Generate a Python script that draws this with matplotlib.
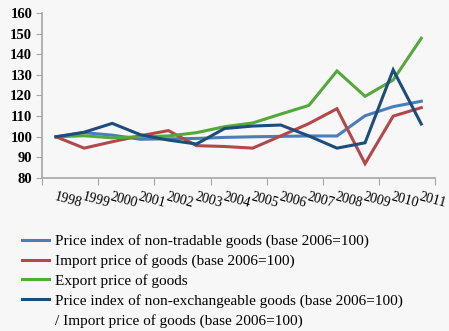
import matplotlib.pyplot as plt
import numpy as np

# data
years = ['1998', '1999', '2000', '2001', '2002', '2003', '2004',
         '2005', '2006', '2007', '2008', '2009', '2010', '2011']
non_tradable = [100, 102, 100.8, 98.8, 99, 99.2, 99.7, 100, 100.2, 100.4, 100.4, 110.2, 114.6, 117.2]
import_price = [100, 94.5, 97.6, 100.5, 103, 95.7, 95.3, 94.5, 100.4, 106.4, 113.6, 87, 110, 114.1]
export_price = [100, 100.5, 99.5, 100, 100.4, 102, 104.9, 106.7, 111, 115.2, 131.9, 119.6, 127.5, 147.7]
ratio = [100, 102.2, 106.5, 101, 98.4, 96.5, 104, 105.2, 105.7, 100.4, 94.5, 97.1, 132.4, 106.2]

labels = ['Price index of non-tradable goods (base 2006=100)',
          'Import price of goods (base 2006=100)',
          'Export price of goods',
          'Price index of non-exchangeable goods (base 2006=100)']
label_tail = '/ Import price of goods (base 2006=100)'
colors = ['#4A7EBB', '#B2484A', '#55A83C', '#1C4D7C']

plt.rcParams['font.family'] = ['Liberation Serif', 'DejaVu Serif']

bg = '#f7f7f7'
fig = plt.figure(figsize=(4.49, 3.31), dpi=100, facecolor=bg)
ax = fig.add_axes([0.0935, 0.462, 0.876, 0.499], facecolor=bg)

x = np.arange(len(years))
lines = []
for ys, c, lab in zip([non_tradable, import_price, export_price, ratio], colors, labels):
    ln, = ax.plot(x, ys, color=c, lw=2.2, label=lab, solid_joinstyle='miter')
    lines.append(ln)

ax.set_xlim(-0.5, len(years) - 0.5)
ax.set_ylim(80, 160)
ax.set_yticks(range(80, 161, 10))
for lbl in ax.get_yticklabels():
    lbl.set_fontweight('bold')
    lbl.set_fontsize(10.5)

ax.set_xticks(np.arange(-0.5, len(years), 2))
ax.set_xticklabels([])
ax.set_xticks(x, minor=True)
ax.set_xticklabels(years, minor=True, rotation=-15, ha='left', rotation_mode='anchor', fontsize=10)
ax.tick_params(axis='x', which='minor', length=0, pad=9)
ax.tick_params(axis='x', which='major', length=5, color='#a6a6a6', direction='out')
ax.tick_params(axis='y', length=4, color='#a6a6a6', pad=3)

for s in ['top', 'right']:
    ax.spines[s].set_visible(False)
for s in ['left', 'bottom']:
    ax.spines[s].set_color('#a6a6a6')
    ax.spines[s].set_linewidth(1.2)

leg = fig.legend(handles=lines, loc='upper left', bbox_to_anchor=(0.035, 0.31),
                 frameon=False, fontsize=11, handlelength=1.8, handletextpad=0.4,
                 labelspacing=0.38, borderaxespad=0)

# second line of the last legend entry, under its first line
fig.canvas.draw()
bb = leg.get_texts()[-1].get_window_extent()
x0 = bb.x0 / fig.bbox.width
y0 = (bb.y0 - 20.5 + bb.height / 2) / fig.bbox.height
fig.text(x0, y0, label_tail, fontsize=11, va='center', ha='left')

fig.savefig('out.png', dpi=100, facecolor=bg)
